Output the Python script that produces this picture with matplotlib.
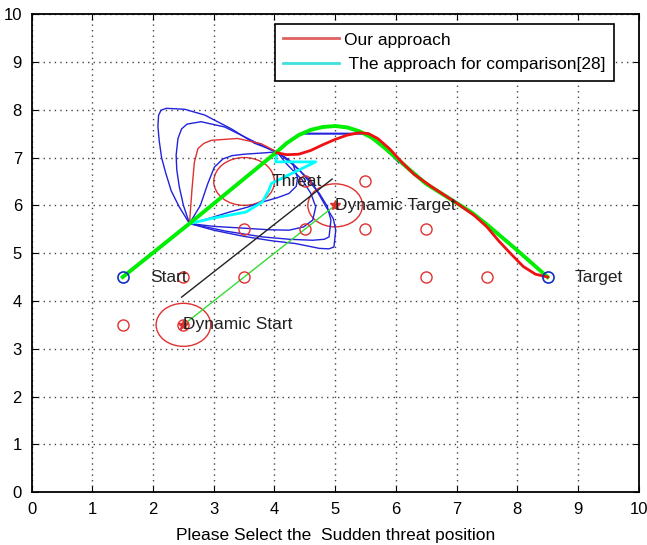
import matplotlib.pyplot as plt
from matplotlib.patches import Circle

plt.rcParams['font.family'] = ['Liberation Sans', 'DejaVu Sans']
plt.rcParams['font.size'] = 12

# puntos de inicio / fin
start = (1.5, 4.5)
target = (8.5, 4.5)

# obstaculos fijos (circulos rojos pequeños)
obs_x = [1.5, 2.5, 2.5, 3.5, 3.5, 4.5, 5.5, 6.5, 4.5, 5.5, 6.5, 7.5]
obs_y = [3.5, 3.5, 4.5, 4.5, 5.5, 5.5, 5.5, 5.5, 6.5, 6.5, 4.5, 4.5]

# amenaza y amenaza dinamica
threat_c, threat_r = (3.5, 6.5), 0.5
dyn_start, dyn_target, dyn_r = (2.5, 3.5), (5.0, 6.0), 0.45
black_x = [2.47, 4.95]
black_y = [4.08, 6.55]

# curvas del abanico (azules)
fan = [
    ([2.6, 2.43, 2.3, 2.21, 2.14, 2.1, 2.08, 2.09, 2.13, 2.22, 2.52, 2.85, 3.29, 3.67, 4.04],
     [5.62, 5.97, 6.3, 6.67, 7.0, 7.36, 7.65, 7.88, 7.99, 8.03, 8.01, 7.89, 7.6, 7.3, 7.12]),
    ([2.6, 2.5, 2.43, 2.39, 2.38, 2.41, 2.47, 2.56, 2.79, 3.18, 3.56, 3.94, 4.04],
     [5.62, 6.0, 6.4, 6.75, 7.05, 7.4, 7.6, 7.7, 7.75, 7.64, 7.4, 7.16, 7.12]),
    ([2.6, 2.78, 2.9, 3.01, 3.15, 3.3, 3.5, 3.85, 4.04],
     [5.62, 6.0, 6.45, 6.8, 6.97, 7.04, 7.07, 7.1, 7.12]),
    ([2.6, 2.9, 3.26, 3.55, 3.8, 4.05, 4.24, 4.36, 4.38, 4.3, 4.04],
     [5.62, 5.72, 5.86, 5.96, 6.07, 6.16, 6.25, 6.4, 6.58, 6.88, 7.12]),
    ([2.6, 3.0, 3.53, 3.9, 4.24, 4.48, 4.63, 4.68, 4.6, 4.46, 4.19, 4.04],
     [5.62, 5.56, 5.52, 5.49, 5.48, 5.55, 5.69, 5.97, 6.25, 6.53, 6.88, 7.12]),
    ([2.6, 3.2, 3.8, 4.25, 4.63, 4.82, 4.9, 4.93, 4.87, 4.74, 4.41, 4.04],
     [5.62, 5.46, 5.34, 5.29, 5.27, 5.29, 5.34, 5.69, 5.98, 6.25, 6.74, 7.12]),
    ([2.6, 3.0, 3.5, 3.95, 4.35, 4.74, 4.9, 4.98, 5.01, 4.97, 4.85, 4.63, 4.24, 4.04],
     [5.62, 5.48, 5.35, 5.26, 5.2, 5.1, 5.09, 5.13, 5.48, 5.72, 5.97, 6.46, 6.95, 7.12]),
]
blue_top_x = [4.5, 5.55, 5.9, 6.05]
blue_top_y = [7.5, 7.5, 7.1, 6.9]

# curva roja fina dentro del abanico
red_thin_x = [2.6, 2.64, 2.68, 2.74, 2.84, 2.96, 3.39, 3.78, 4.04]
red_thin_y = [5.62, 6.32, 6.9, 7.19, 7.3, 7.36, 7.4, 7.29, 7.12]

# enfoque de comparacion (cian)
cyan_x = [1.5, 2.6, 2.98, 3.53, 3.8, 3.91, 3.95, 4.68, 4.02, 4.04]
cyan_y = [4.5, 5.62, 5.73, 5.86, 6.07, 6.32, 6.46, 6.91, 6.91, 7.12]

# trayectoria verde
green_x = [1.5, 2.6, 4.04, 4.2, 4.4, 4.6, 4.8, 5.0, 5.2, 5.4, 5.6, 5.8, 6.0, 6.25,
           6.5, 6.75, 7.0, 7.25, 7.5, 7.75, 8.0, 8.25, 8.5]
green_y = [4.5, 5.62, 7.12, 7.3, 7.47, 7.58, 7.64, 7.66, 7.63, 7.55, 7.42, 7.22, 7.0, 6.72,
           6.45, 6.25, 6.05, 5.85, 5.6, 5.33, 5.06, 4.78, 4.5]

# nuestro enfoque (rojo grueso)
red_x = [4.04, 4.2, 4.4, 4.6, 4.8, 5.0, 5.2, 5.4, 5.55, 5.7, 5.9, 6.1, 6.3, 6.6,
         7.0, 7.3, 7.5, 7.7, 7.9, 8.1, 8.3, 8.5]
red_y = [7.1, 7.06, 7.07, 7.15, 7.27, 7.38, 7.47, 7.52, 7.5, 7.4, 7.18, 6.9, 6.65, 6.38,
         6.05, 5.78, 5.55, 5.25, 4.98, 4.72, 4.56, 4.5]

fig = plt.figure(figsize=(6.47, 5.45), dpi=100)
ax = fig.add_axes([0.049, 0.097, 0.938, 0.877])

for fx, fy in fan:
    ax.plot(fx, fy, color='#2222dd', lw=1)
ax.plot(blue_top_x, blue_top_y, color='#2222dd', lw=1.5)
ax.plot(red_thin_x, red_thin_y, color='#e03030', lw=1)

# amenazas
ax.add_patch(Circle(threat_c, threat_r, fill=False, color='#e03030', lw=1))
ax.add_patch(Circle(dyn_start, dyn_r, fill=False, color='#e03030', lw=1))
ax.add_patch(Circle(dyn_target, dyn_r, fill=False, color='#e03030', lw=1))
ax.plot(black_x, black_y, color='#222222', lw=1)
ax.plot([dyn_start[0], dyn_target[0]], [dyn_start[1], dyn_target[1]], color='#33dd33', lw=1)

ax.plot(cyan_x, cyan_y, color='#00ffff', lw=2)
ax.plot(green_x, green_y, color='#00ee00', lw=2.8)
ax.plot(red_x, red_y, color='#ee1111', lw=2)

ax.plot(obs_x, obs_y, 'o', mfc='none', mec='#e03030', ms=8, mew=1)
ax.plot([dyn_start[0], dyn_target[0]], [dyn_start[1], dyn_target[1]], '*', color='#e03030', ms=7, ls='none')
ax.plot([start[0], target[0]], [start[1], target[1]], 'o', mfc='none', mec='#1030c0', ms=8, mew=1.2)

ax.text(1.95, 4.5, 'Start', va='center', color='#222222', fontsize=12.5)
ax.text(8.95, 4.5, 'Target', va='center', color='#222222', fontsize=12.5)
ax.text(3.95, 6.5, 'Threat', va='center', color='#222222', fontsize=12.5)
ax.text(5.0, 6.0, 'Dynamic Target', va='center', color='#222222', fontsize=12.5)
ax.text(2.5, 3.5, 'Dynamic Start', va='center', color='#222222', fontsize=12.5)

# leyenda
h_red = plt.Line2D([], [], color='#e06060', lw=2)
h_cyan = plt.Line2D([], [], color='#40e0e0', lw=2)
leg = ax.legend([h_red, h_cyan], ['Our approach', ' The approach for comparison[28]'],
                loc='upper right', bbox_to_anchor=(0.96, 0.98), borderaxespad=0,
                fancybox=False, edgecolor='black', framealpha=1, handlelength=3.2,
                handletextpad=0.3, labelspacing=0.55, borderpad=0.5, fontsize=12.5)
leg.get_frame().set_linewidth(1.2)

ax.set_xlim(0, 10)
ax.set_ylim(0, 10)
ax.set_xticks(range(11))
ax.set_yticks(range(11))
ax.grid(True, linestyle=(0, (1, 3)), color='#444444', lw=1)
ax.tick_params(direction='in', top=True, right=True, length=4, pad=7, labelsize=12)
for s in ax.spines.values():
    s.set_linewidth(1.3)
ax.set_xlabel('Please Select the  Sudden threat position', labelpad=8, fontsize=12.5)

fig.savefig('out.png', dpi=100)
